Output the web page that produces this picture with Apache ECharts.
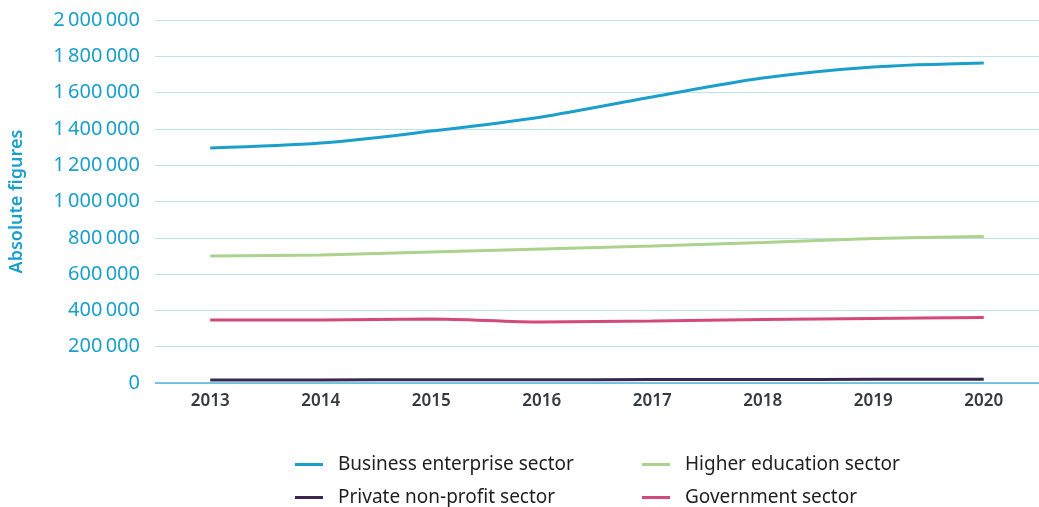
<!DOCTYPE html>
<html>
<head>
<meta charset="utf-8">
<script src="https://cdn.jsdelivr.net/npm/echarts@6/dist/echarts.min.js"></script>
<style>html,body{margin:0;padding:0;background:#fff}#c{width:1039px;height:507px}</style>
</head>
<body>
<div id="c"></div>
<script>
const years = ['2013','2014','2015','2016','2017','2018','2019','2020'];
const business = [1295000, 1322000, 1388000, 1466000, 1576000, 1680000, 1741000, 1763000];
const higherEd = [700000, 705000, 722000, 738000, 755000, 774000, 796000, 807000];
const privateNP = [17000, 17000, 18000, 18000, 19000, 19000, 20000, 20000];
const government = [347000, 347000, 353000, 336000, 342000, 350000, 355000, 361000];
const yTicks = [0, 200000, 400000, 600000, 800000, 1000000, 1200000, 1400000, 1600000, 1800000, 2000000];

const names = ['Business enterprise sector','Higher education sector','Private non-profit sector','Government sector'];
const colors = ['#1a9fcb','#acd28d','#3b2650','#d4497b'];
const FONT = 'Noto Sans';

function fmt(v){ return String(v).replace(/\B(?=(\d{3})+(?!\d))/g, '\u2009'); }

const chart = echarts.init(document.getElementById('c'), null, {renderer:'canvas'});
const legendPos = [[290,450],[637,450],[290,483],[637,483]];
chart.setOption({
  animation:false,
  textStyle:{fontFamily:FONT},
  grid:{left:147, right:-5, top:20, bottom:124},
  legend: names.map((n,i)=>({
    data:[n], left:legendPos[i][0], top:legendPos[i][1],
    icon:'rect', itemWidth:28, itemHeight:3,
    textStyle:{fontFamily:FONT, fontSize:19, color:'#1f1f1f', padding:[0,0,0,10]}
  })),
  xAxis:{
    type:'category', data:years, boundaryGap:true,
    axisLine:{show:false}, axisTick:{show:false},
    axisLabel:{color:'#333a40', fontSize:17, margin:10, fontWeight:600}
  },
  yAxis:{
    type:'value', min:0, max:2000000, interval:200000,
    name:'Absolute figures', nameLocation:'middle', nameGap:129, nameRotate:90,
    nameTextStyle:{color:'#1a9fcb', fontSize:18, fontWeight:600, fontFamily:FONT},
    axisLine:{show:false}, axisTick:{show:false},
    axisLabel:{color:'#1a9fcb', fontSize:20, margin:15, formatter:(v)=>yTicks.includes(v)?fmt(v):''},
    splitLine:{lineStyle:{color:'#bfe3ee', width:1}}
  },
  series:[
    {name:names[0], type:'line', data:business, smooth:0.3, showSymbol:false, lineStyle:{width:3, color:colors[0]}, itemStyle:{color:colors[0]}},
    {name:names[1], type:'line', data:higherEd, smooth:0.3, showSymbol:false, lineStyle:{width:3, color:colors[1]}, itemStyle:{color:colors[1]}},
    {name:names[2], type:'line', data:privateNP, smooth:0.3, showSymbol:false, lineStyle:{width:3, color:colors[2]}, itemStyle:{color:colors[2]}},
    {name:names[3], type:'line', data:government, smooth:0.3, showSymbol:false, lineStyle:{width:3, color:colors[3]}, itemStyle:{color:colors[3]}},
    {type:'line', data:years.map(()=>0), silent:true, showSymbol:false, lineStyle:{width:0}, markLine:{silent:true, symbol:'none', label:{show:false}, lineStyle:{color:'#4fb6d8', width:1.5, type:'solid'}, data:[{yAxis:0}]}}
  ]
});
</script>
</body>
</html>
